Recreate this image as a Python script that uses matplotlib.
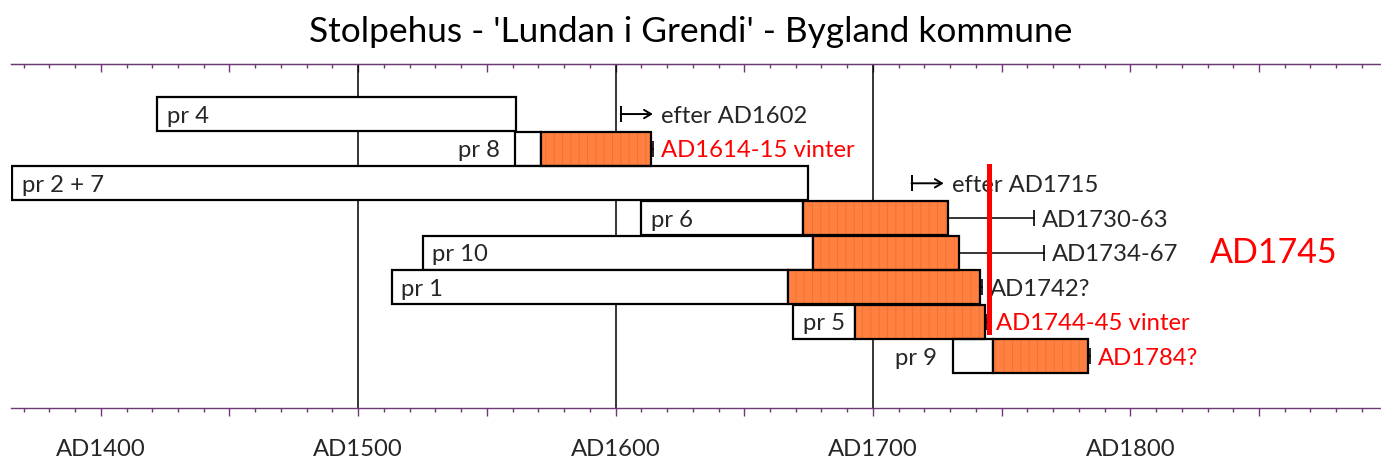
import matplotlib.pyplot as plt
import matplotlib.ticker as mticker
import numpy as np

plt.rcParams['font.family'] = ['Lato', 'DejaVu Sans']
plt.rcParams['hatch.linewidth'] = 0.7

# prøver, ovenfra og ned
labels = ['pr 4', 'pr 8', 'pr 2 + 7', 'pr 6', 'pr 10', 'pr 1', 'pr 5', 'pr 9']
label_inside = [True, False, True, True, True, True, True, False]
kjerne_start = [1422, 1561, 1365.5, 1610, 1525, 1513, 1669, 1731]
kjerne_slutt = [1561.5, 1571, 1674.6, 1672.7, 1676.8, 1667, 1693.2, 1746.7]
splint_slutt = [np.nan, 1613.6, np.nan, 1729.2, 1733.5, 1741.6, 1743.7, 1783.6]
felling_slutt = [np.nan, 1614.6, np.nan, 1762.6, 1766.5, 1742.2, 1744.4, 1784.3]
felling_tekst = ['', 'AD1614-15 vinter', '', 'AD1730-63', 'AD1734-67',
                 'AD1742?', 'AD1744-45 vinter', 'AD1784?']
felling_farge = ['k', 'red', 'k', '#262626', '#262626', '#262626', 'red', 'red']

# "efter" markeringer
efter_rad = [0, 2]
efter_aar = [1602, 1715]
efter_tekst = ['efter AD1602', 'efter AD1715']

aarstall = 1745
aarstall_tekst = 'AD1745'

hjelpelinjer = [1500, 1600, 1700]
tick_aar = [1400, 1500, 1600, 1700, 1800]
tick_tekst = ['AD1400', 'AD1500', 'AD1600', 'AD1700', 'AD1800']

TEKST = '#262626'
ORANSJE = '#FF8040'
LILLA = '#6b3a72'
FS = 17.2

fig = plt.figure(figsize=(13.81, 4.70), dpi=100)
ax = fig.add_axes([0.00775, 0.1319, 0.99225, 0.7319])
ax.set_xlim(1365, 1897.4)
ax.set_ylim(8.49, -1.445)

ax.vlines(hjelpelinjer, 8.49, -1.445, color='k', lw=1.1, zorder=1)

y = np.arange(len(labels))
for i in y:
    ax.barh(i, kjerne_slutt[i] - kjerne_start[i], left=kjerne_start[i], height=0.98,
            color='white', edgecolor='k', lw=1.6, zorder=2)
    if not np.isnan(splint_slutt[i]):
        ax.barh(i, splint_slutt[i] - kjerne_slutt[i], left=kjerne_slutt[i], height=0.98,
                color=ORANSJE, edgecolor='#ee7430', hatch='||', lw=0, zorder=2)
        ax.barh(i, splint_slutt[i] - kjerne_slutt[i], left=kjerne_slutt[i], height=0.98,
                fill=False, edgecolor='k', lw=1.6, zorder=3)
        ax.plot([splint_slutt[i], felling_slutt[i]], [i, i], color='k', lw=1.1, zorder=3)
        ax.plot(felling_slutt[i], i, marker='|', ms=12, mew=1.2, color='k', zorder=3)
        ax.annotate(felling_tekst[i], (felling_slutt[i], i), xytext=(6, -1.5),
                    textcoords='offset points', va='center', ha='left',
                    fontsize=FS, color=felling_farge[i])
    if label_inside[i]:
        ax.annotate(labels[i], (kjerne_start[i], i), xytext=(7, -1.5),
                    textcoords='offset points', va='center', ha='left',
                    fontsize=FS, color=TEKST, zorder=4)
    else:
        ax.annotate(labels[i], (kjerne_start[i], i), xytext=(-11, -1.5),
                    textcoords='offset points', va='center', ha='right',
                    fontsize=FS, color=TEKST, zorder=4)

for r, a, t in zip(efter_rad, efter_aar, efter_tekst):
    ax.plot(a, r, marker='|', ms=11, mew=1.4, color='k')
    ax.annotate('', xy=(a + 12.5, r), xytext=(a, r),
                arrowprops=dict(arrowstyle='->,head_length=0.5,head_width=0.3', color='k',
                                lw=1.4, shrinkA=0, shrinkB=0))
    ax.annotate(t, (a, r), xytext=(29, -1.5), textcoords='offset points',
                va='center', ha='left', fontsize=FS, color=TEKST)

# rød linje for felling
ax.plot([aarstall, aarstall], [1.5, 6.3], color='red', lw=3.6, zorder=5)
ax.text(1831, 4, aarstall_tekst, color='red', fontsize=24.5, va='center', ha='left')

# akser
for s in ['left', 'right']:
    ax.spines[s].set_visible(False)
for s in ['top', 'bottom']:
    ax.spines[s].set_color(LILLA)
    ax.spines[s].set_linewidth(1.0)
ax.set_yticks([])

major = np.arange(1400, 1851, 50)
ax.set_xticks(major)
ax.set_xticklabels([tick_tekst[tick_aar.index(m)] if m in tick_aar else '' for m in major])
ax.xaxis.set_minor_locator(mticker.MultipleLocator(10))
ax.tick_params(axis='x', which='major', direction='out', length=6, width=1.0,
               color=LILLA, labelsize=FS, labelcolor=TEKST, pad=16)
ax.tick_params(axis='x', which='minor', direction='out', length=3, width=1.0, color=LILLA)

sec = ax.secondary_xaxis('top')
sec.set_xticks(major)
sec.set_xticklabels([])
sec.xaxis.set_minor_locator(mticker.MultipleLocator(10))
sec.tick_params(which='major', direction='in', length=6, width=1.0, color=LILLA)
sec.tick_params(which='minor', direction='in', length=3, width=1.0, color=LILLA)
sec.spines['top'].set_color(LILLA)

fig.text(0.5, 0.9106, "Stolpehus - 'Lundan i Grendi' - Bygland kommune",
         ha='center', va='baseline', fontsize=25.4, color='k')

fig.savefig('out.png', dpi=100)
